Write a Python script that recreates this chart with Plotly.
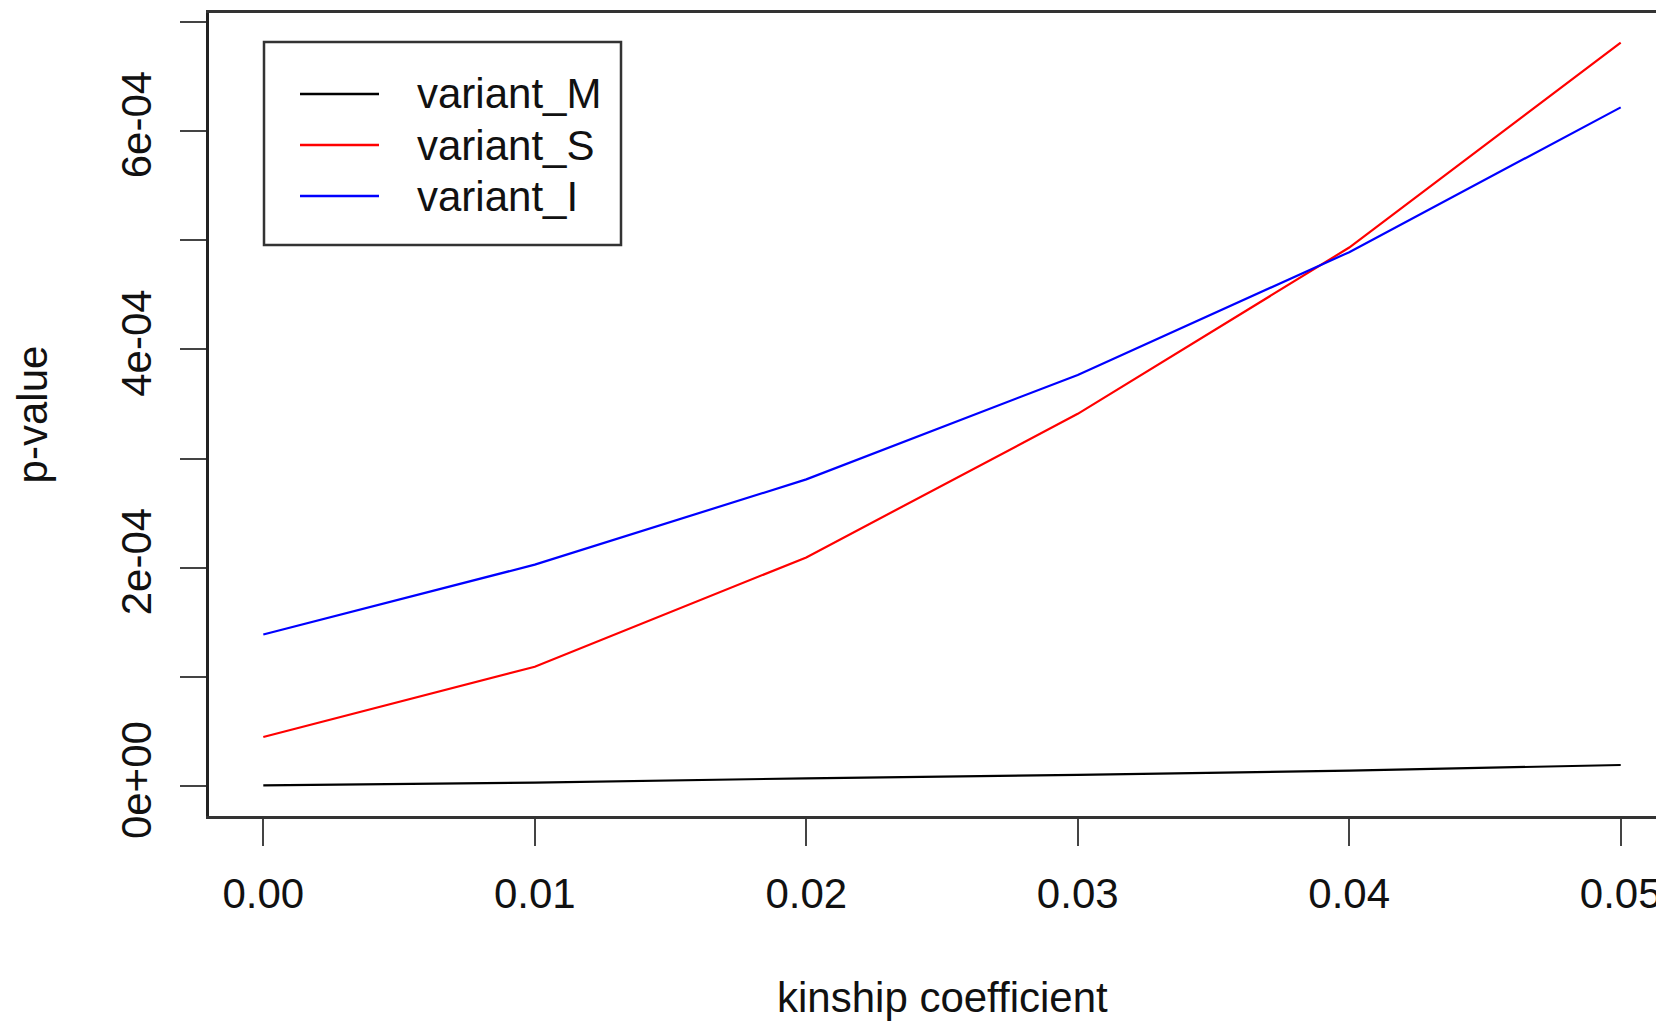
import plotly.graph_objects as go

# ---- data ----
kinship = [0.00, 0.01, 0.02, 0.03, 0.04, 0.05]
variant_M = [0.10e-5, 0.35e-5, 0.74e-5, 1.05e-5, 1.45e-5, 1.96e-5]
variant_S = [0.452e-4, 1.095e-4, 2.096e-4, 3.410e-4, 4.932e-4, 6.807e-4]
variant_I = [1.390e-4, 2.030e-4, 2.810e-4, 3.766e-4, 4.890e-4, 6.215e-4]
series_names = ["variant_M", "variant_S", "variant_I"]
series_colors = ["#000000", "#FF0000", "#0000FF"]
x_ticks = [0.00, 0.01, 0.02, 0.03, 0.04, 0.05]
x_ticktext = ["0.00", "0.01", "0.02", "0.03", "0.04", "0.05"]
y_ticks = [0, 1e-4, 2e-4, 3e-4, 4e-4, 5e-4, 6e-4, 7e-4]
y_ticktext = ["0e+00", "", "2e-04", "", "4e-04", "", "6e-04", ""]
x_title = "kinship coefficient"
y_title = "p-value"

W, H = 1664, 1021
OFF = 8  # page body margin offset
ML, MT = 209 - OFF, 13 - OFF
MR = OFF
MB = H - (816 - OFF)
FONT = "Liberation Sans, Arial, sans-serif"
FS = 42

fig = go.Figure()
for name, vals, col in zip(series_names, [variant_M, variant_S, variant_I], series_colors):
    fig.add_trace(go.Scatter(x=kinship, y=vals, mode="lines", name=name,
                             line=dict(color=col, width=2.2), showlegend=False))

fig.update_layout(
    width=W, height=H,
    margin=dict(l=ML, r=MR, t=MT, b=MB, autoexpand=False),
    paper_bgcolor="white", plot_bgcolor="white",
    font=dict(family=FONT, size=FS, color="#111111"),
    xaxis=dict(range=[-0.002, 0.051595], tickvals=x_ticks, ticktext=x_ticktext,
               showgrid=False, zeroline=False, showline=True, mirror=True,
               linecolor="#333333", linewidth=3, ticks="outside", ticklen=27,
               tickwidth=2, tickcolor="#444444", ticklabelstandoff=12),
    yaxis=dict(range=[-0.2708e-4, 7.0787e-4], tickvals=y_ticks, ticktext=y_ticktext,
               showgrid=False, zeroline=False, showline=True, mirror=False,
               linecolor="#222222", linewidth=3, ticks="outside", ticklen=26,
               tickwidth=2, tickcolor="#444444", tickangle=-90, ticklabelstandoff=12,
               title=dict(text=y_title, standoff=53,
                          font=dict(size=FS, family=FONT))),
)

# positions given in page pixels -> paper coords
pw = W - ML - MR
ph = H - MT - MB
def px(xp):
    return (xp - OFF - ML) / pw
def py(yp):
    return (H - MB - (yp - OFF)) / ph

# x-axis title centred on the full (R) plot region
fig.add_annotation(xref="paper", yref="paper", x=px(942), y=py(997),
                   text=x_title, showarrow=False, xanchor="center", yanchor="middle",
                   font=dict(size=FS, family=FONT, color="#111111"))

# manual legend box (R-style)
fig.add_shape(type="rect", xref="paper", yref="paper",
              x0=px(264), x1=px(621), y0=py(245), y1=py(42),
              line=dict(color="#333333", width=2.5), fillcolor="rgba(0,0,0,0)")
leg_y = [94, 145, 196]
for name, col, yy in zip(series_names, series_colors, leg_y):
    fig.add_shape(type="line", xref="paper", yref="paper",
                  x0=px(300), x1=px(379), y0=py(yy), y1=py(yy),
                  line=dict(color=col, width=2.5))
    fig.add_annotation(xref="paper", yref="paper", x=px(415), y=py(yy),
                       text=name, showarrow=False, xanchor="left", yanchor="middle",
                       font=dict(size=FS, family=FONT, color="#111111"))

fig.write_html("out.html")
